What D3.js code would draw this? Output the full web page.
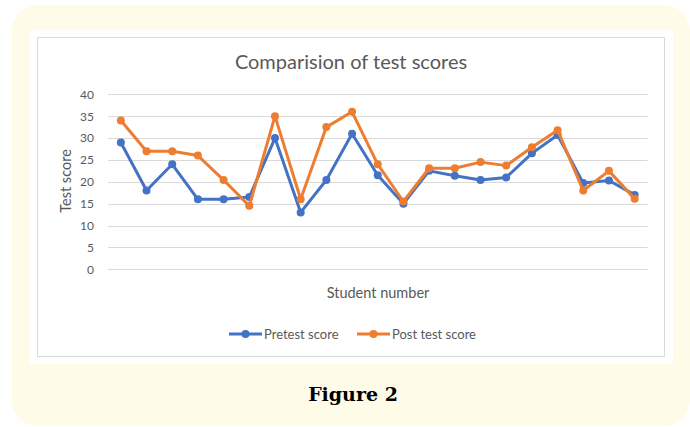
<!DOCTYPE html>
<html>
<head>
<meta charset="utf-8">
<script src="https://cdn.jsdelivr.net/npm/d3@7"></script>
<style>
  html, body { margin: 0; padding: 0; background: #ffffff; }
  svg { display: block; }
</style>
</head>
<body>
<svg id="chart" width="690" height="427"></svg>
<script>
const students = d3.range(1, 22);
const pretest = [29, 18, 24, 16, 16, 16.5, 30, 13, 20.4, 31, 21.5, 15, 22.5, 21.4, 20.4, 21, 26.5, 30.7, 19.7, 20.3, 17];
const posttest = [34, 27, 27, 26, 20.4, 14.5, 35, 16, 32.5, 36, 24, 15.5, 23.1, 23.1, 24.5, 23.7, 27.9, 31.8, 18, 22.5, 16.1];
const yTicks = [0, 5, 10, 15, 20, 25, 30, 35, 40];
const seriesNames = ["Pretest score", "Post test score"];
const seriesColors = ["#4472C4", "#ED7D31"];

const svg = d3.select("#chart");
const font = "Lato, 'Open Sans', sans-serif";

// cream background panel
svg.append("rect").attr("x", 12).attr("y", 5).attr("width", 678).attr("height", 421)
  .attr("rx", 26).attr("fill", "#fefbe8");
// white area
svg.append("rect").attr("x", 30).attr("y", 30).attr("width", 643).attr("height", 334).attr("fill", "#ffffff");
// chart border
svg.append("rect").attr("x", 37.5).attr("y", 37.5).attr("width", 627).attr("height", 319)
  .attr("fill", "none").attr("stroke", "#d9d9d9").attr("stroke-width", 1);

const x = d3.scaleBand().domain(students).range([108, 647.5]);
const y = d3.scaleLinear().domain([0, 40]).range([269.3, 94.3]);

// gridlines
svg.append("g").selectAll("line").data(yTicks).join("line")
  .attr("x1", 108).attr("x2", 647.5)
  .attr("y1", d => Math.round(y(d)) + 0.5).attr("y2", d => Math.round(y(d)) + 0.5)
  .attr("stroke", "#d9d9d9").attr("stroke-width", 1);

// y axis labels
const yAxis = d3.axisLeft(y).tickValues(yTicks).tickSize(0).tickPadding(14);
const gy = svg.append("g").attr("transform", "translate(108,0)").call(yAxis);
gy.select(".domain").remove();
gy.selectAll("text").attr("fill", "#595959").style("font-family", font).style("font-size", "12px");

// title
svg.append("text").attr("x", 351).attr("y", 69).attr("text-anchor", "middle")
  .attr("fill", "#595959").style("font-family", font).style("font-size", "20px")
  .text("Comparision of test scores");

// axis titles
svg.append("text").attr("transform", "translate(71,181) rotate(-90)").attr("text-anchor", "middle")
  .attr("fill", "#595959").style("font-family", font).style("font-size", "14.5px")
  .text("Test score");
svg.append("text").attr("x", 378).attr("y", 298).attr("text-anchor", "middle")
  .attr("fill", "#595959").style("font-family", font).style("font-size", "14.5px")
  .text("Student number");

// lines
const cx = d => x(d) + x.bandwidth() / 2;
const series = [pretest, posttest];
series.forEach((vals, i) => {
  const line = d3.line().x((d, j) => cx(students[j])).y(d => y(d));
  svg.append("path").datum(vals).attr("d", line).attr("fill", "none")
    .attr("stroke", seriesColors[i]).attr("stroke-width", 3).attr("stroke-linejoin", "round");
  svg.append("g").selectAll("circle").data(vals).join("circle")
    .attr("cx", (d, j) => cx(students[j])).attr("cy", d => y(d)).attr("r", 4)
    .attr("fill", seriesColors[i]);
});

// legend
const legendX = [229, 357];
seriesNames.forEach((name, i) => {
  const g = svg.append("g").attr("transform", `translate(${legendX[i]},334)`);
  g.append("line").attr("x1", 0).attr("x2", 33).attr("y1", 0).attr("y2", 0)
    .attr("stroke", seriesColors[i]).attr("stroke-width", 3);
  g.append("circle").attr("cx", 16.5).attr("cy", 0).attr("r", 4).attr("fill", seriesColors[i]);
  g.append("text").attr("x", 35).attr("y", 4.5).attr("fill", "#595959")
    .style("font-family", font).style("font-size", "13px").text(name);
});

// figure caption
svg.append("text").attr("x", 353).attr("y", 401).attr("text-anchor", "middle")
  .attr("fill", "#000000").style("font-family", "'DejaVu Serif', 'Liberation Serif', serif")
  .style("font-weight", "bold").style("font-size", "19px").text("Figure 2");
</script>
</body>
</html>
